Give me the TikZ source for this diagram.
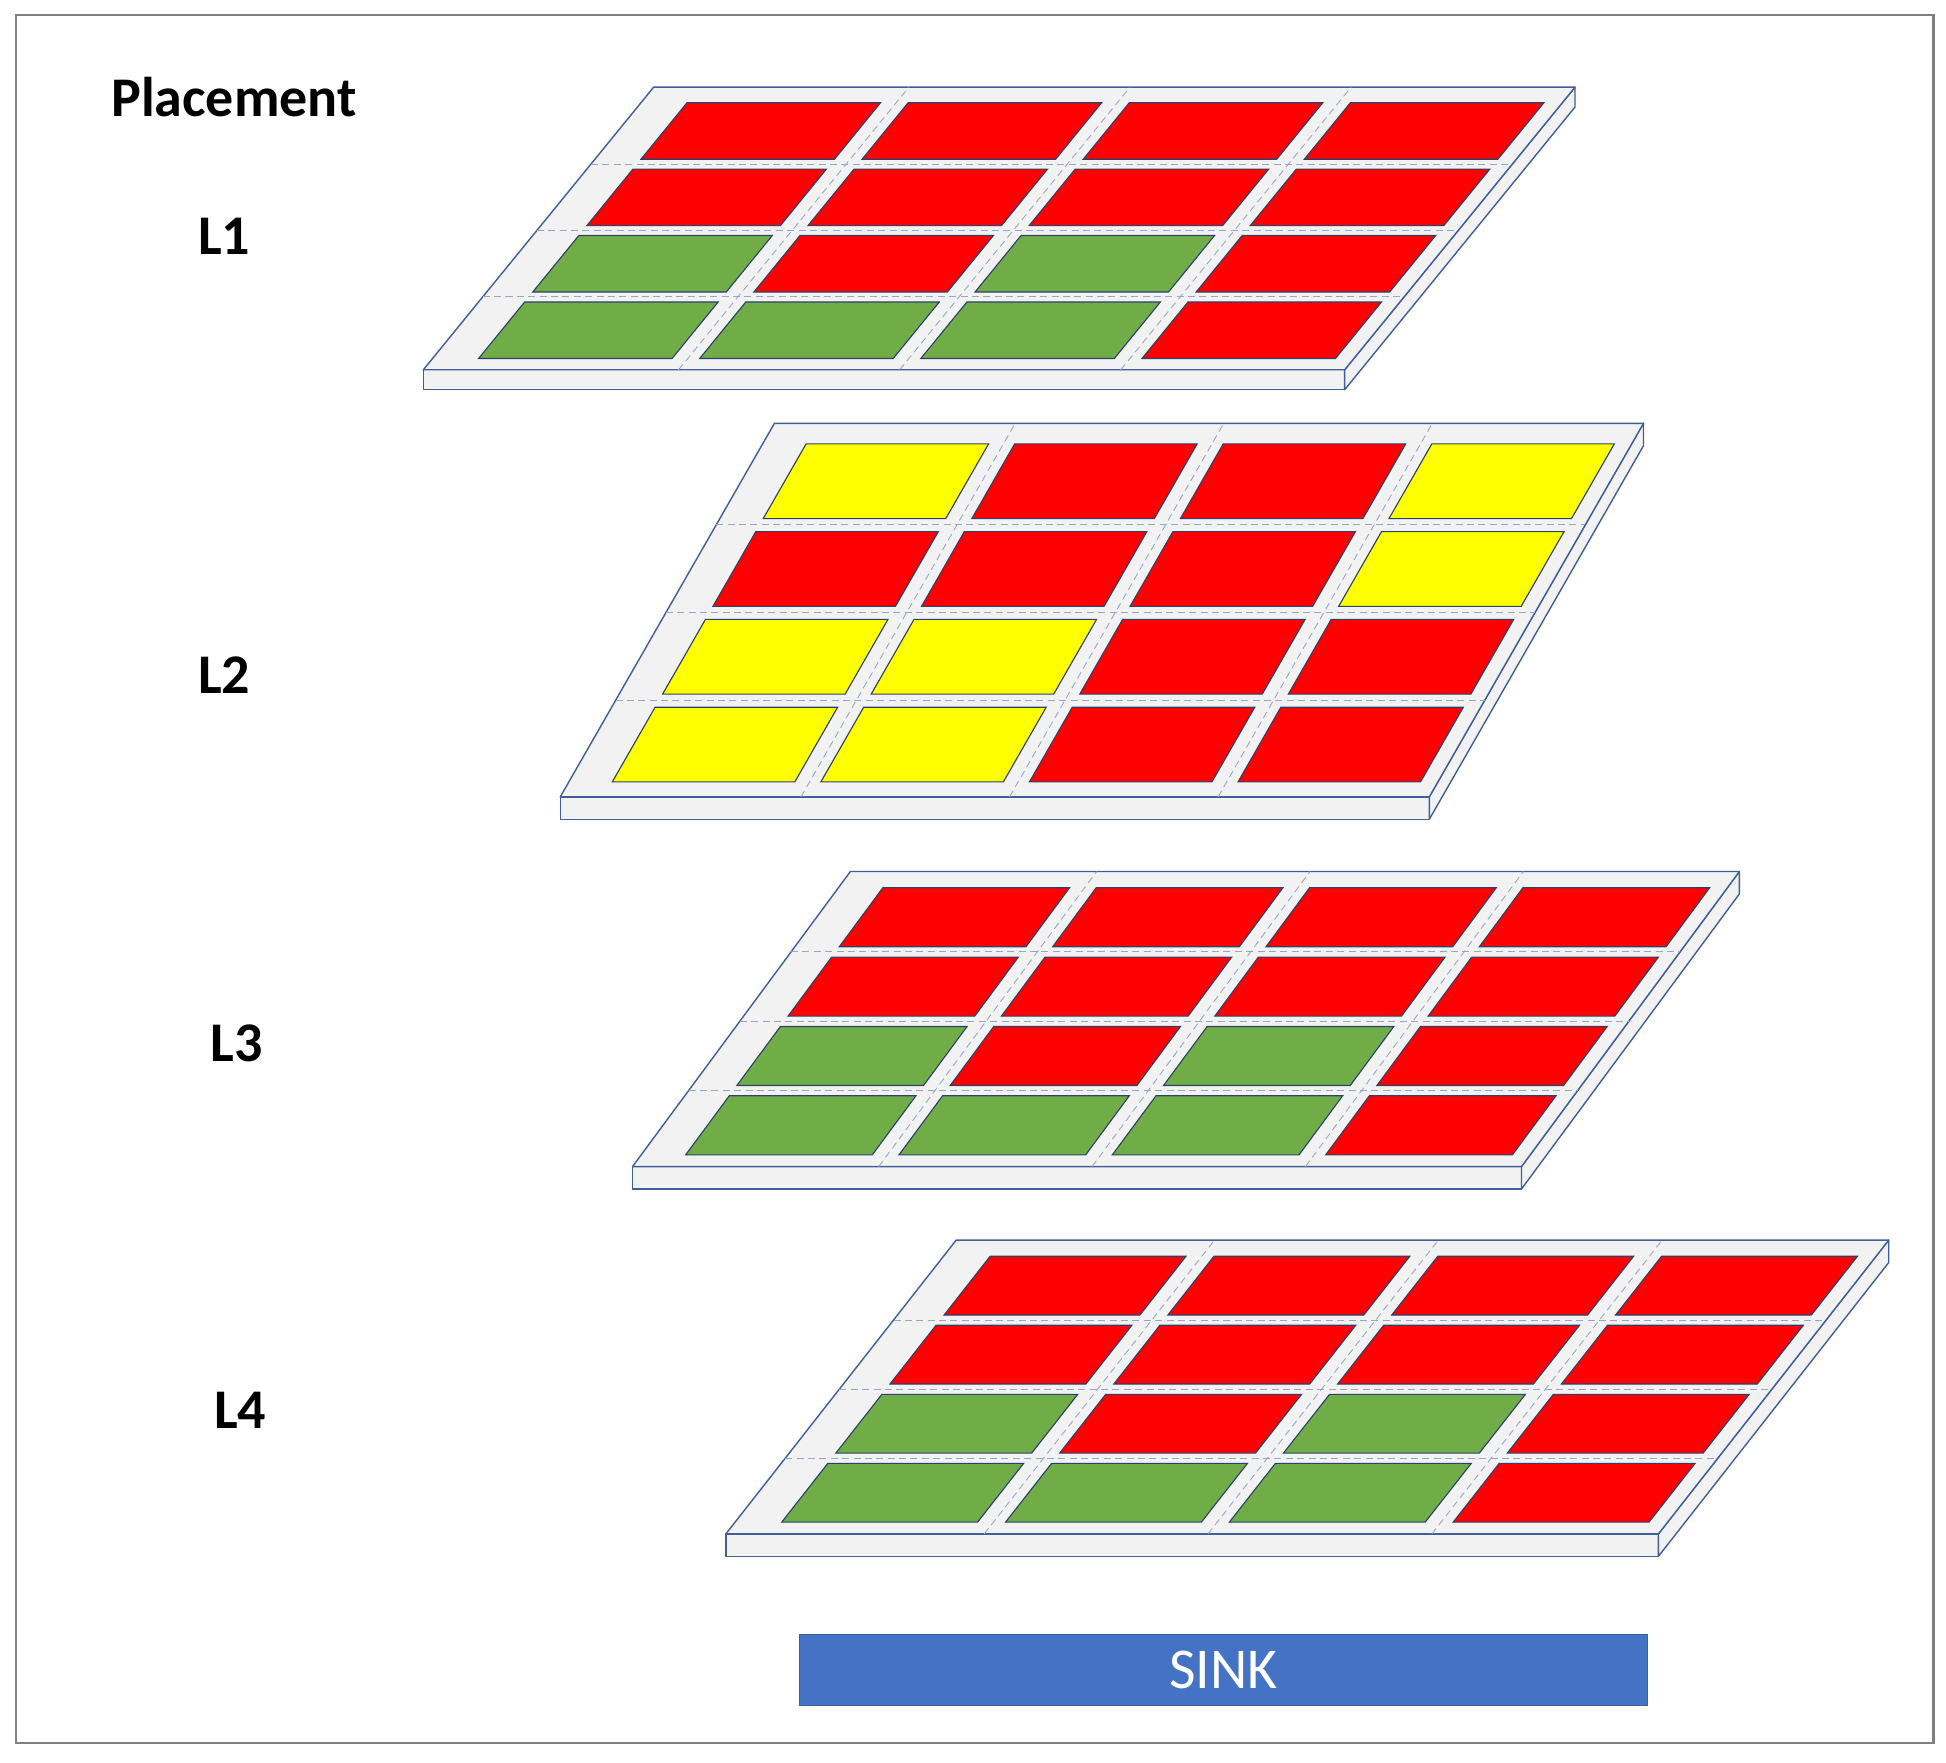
\documentclass[tikz,border=0pt]{standalone}
\usepackage{fontspec}
\setmainfont{Carlito}
\definecolor{rr}{HTML}{FF0000}
\definecolor{gg}{HTML}{70AD47}
\definecolor{yy}{HTML}{FFFF00}
\definecolor{edge}{HTML}{3F5E9A}
\definecolor{slab}{HTML}{F2F2F2}
\definecolor{sink}{HTML}{4472C4}
\tikzset{slabface/.style={fill=slab,draw=edge,line width=1.6pt,line join=round},
 tile/.style={draw=edge!70!black,line width=1.3pt},
 grid/.style={draw=edge!55,dash pattern=on 8pt off 5pt,line width=1pt},
 lab/.style={font=\bfseries\fontsize{64}{70}\selectfont,anchor=center}}
% #1 blx #2 bly #3 w #4 dx #5 h #6 t #7 colors
\newcommand\lay[7]{%
 \fill[slabface] (#1,#2) rectangle (#1+#3,#2+#6);
 \fill[slabface] (#1+#3,#2) -- (#1+#3+#4,#2-#5) -- (#1+#3+#4,#2-#5+#6) -- (#1+#3,#2+#6) -- cycle;
 \fill[slabface] (#1,#2) -- (#1+#3,#2) -- (#1+#3+#4,#2-#5) -- (#1+#4,#2-#5) -- cycle;
 \foreach \k in {1,2,3}{
  \pgfmathsetmacro\u{0.05+0.24*\k-0.013}
  \pgfmathsetmacro\v{0.04+0.235*\k-0.017}
  \draw[grid] ({#1+\u*#3},#2) -- ({#1+\u*#3+#4},#2-#5);
  \draw[grid] ({#1+\v*#4},{#2-\v*#5}) -- ({#1+#3+\v*#4},{#2-\v*#5});
 }
 \foreach \c [count=\n from 0] in {#7}{
  \pgfmathtruncatemacro\i{mod(\n,4)}
  \pgfmathtruncatemacro\j{3-floor(\n/4)}
  \pgfmathsetmacro\ua{0.05+0.24*\i}\pgfmathsetmacro\ub{\ua+0.21}
  \pgfmathsetmacro\va{0.04+0.235*\j}\pgfmathsetmacro\vb{\va+0.2}
  \filldraw[tile,fill=\c] ({#1+\ua*#3+\va*#4},{#2-\va*#5}) -- ({#1+\ub*#3+\va*#4},{#2-\va*#5})
   -- ({#1+\ub*#3+\vb*#4},{#2-\vb*#5}) -- ({#1+\ua*#3+\vb*#4},{#2-\vb*#5}) -- cycle;
 }}
\begin{document}
\begin{tikzpicture}[x=0.05cm,y=-0.05cm]
\useasboundingbox (0,0) rectangle (1563,1416);
\fill[white] (0,0) rectangle (1563,1416);
\draw[gray,line width=2.5pt] (13,12) rectangle (1553,1400);
\node[lab] (placement) at (188,78) {Placement};
\node[lab] (l1) at (180,190) {L1};
\node[lab] (l2) at (180,542) {L2};
\node[lab] (l3) at (190,838) {L3};
\node[lab] (l4) at (193,1133) {L4};
\lay{340}{297}{740}{185}{227}{16}{rr,rr,rr,rr,rr,rr,rr,rr,gg,rr,gg,rr,gg,gg,gg,rr}
\lay{450}{640}{698}{172}{300}{18}{yy,rr,rr,yy,rr,rr,rr,yy,yy,yy,rr,rr,yy,yy,rr,rr}
\lay{508}{937}{714}{175}{237}{18}{rr,rr,rr,rr,rr,rr,rr,rr,gg,rr,gg,rr,gg,gg,gg,rr}
\lay{583}{1232}{749}{185}{236}{18}{rr,rr,rr,rr,rr,rr,rr,rr,gg,rr,gg,rr,gg,gg,gg,rr}
\node[draw=edge,line width=1.5pt,fill=sink,minimum width=681*0.05cm,minimum height=57*0.05cm,text=white,font=\fontsize{66}{70}\selectfont] (sinkbox) at (982.5,1341.5) {SINK};
\end{tikzpicture}
\end{document}
